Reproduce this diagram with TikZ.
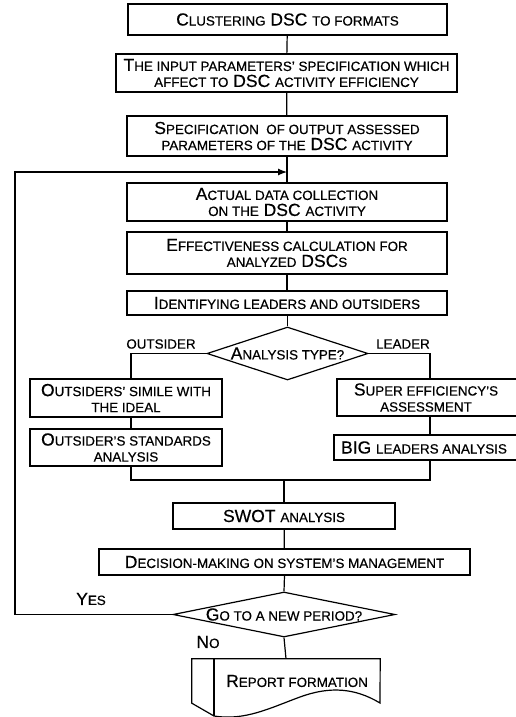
\documentclass[tikz,border=0pt]{standalone}
\usepackage{fontspec}
\setmainfont[FakeBold=0.5,AutoFakeBold=0.5]{Liberation Sans}
\usetikzlibrary{shapes.geometric,arrows.meta}
\newcommand\sm[1]{{\fontsize{13.4}{16}\selectfont #1}}
\tikzset{
  box/.style={draw, rectangle, inner sep=0pt, align=center, line width=1.2pt,
    font=\fontsize{17.5}{16}\selectfont},
  dia/.style={draw, diamond, inner sep=0pt, line width=1.2pt,
    font=\fontsize{17.5}{16}\selectfont},
  lbl/.style={inner sep=0pt, font=\fontsize{17.5}{16}\selectfont},
  conn/.style={line width=1.2pt},
}
\begin{document}
\begin{tikzpicture}[x=1pt,y=-1pt]
\path[use as bounding box] (0,0) rectangle (516,717);
\clip (0,0) rectangle (516,717);
% main column
\node[box, minimum width=319pt, minimum height=31pt] (b1) at (287.5,19.5) {C\sm{LUSTERING} DSC \sm{TO FORMATS}};
\node[box, minimum width=341pt, minimum height=38pt] (b2) at (286.5,73) {T\sm{HE INPUT PARAMETERS' SPECIFICATION WHICH}\\ \sm{AFFECT TO} DSC \sm{ACTIVITY EFFICIENCY}};
\node[box, minimum width=320pt, minimum height=40pt] (b3) at (287,136) {S\sm{PECIFICATION\ \ OF OUTPUT ASSESSED}\\ \sm{PARAMETERS OF THE} DSC \sm{ACTIVITY}};
\node[box, minimum width=320pt, minimum height=38pt] (b4) at (287,202) {A\sm{CTUAL DATA COLLECTION}\\ \sm{ON THE} DSC \sm{ACTIVITY}};
\node[box, minimum width=320pt, minimum height=42pt] (b5) at (287,253) {E\sm{FFECTIVENESS CALCULATION FOR}\\ \sm{ANALYZED} DSC\sm{S}};
\node[box, minimum width=320pt, minimum height=24pt] (b6) at (287,303) {I\sm{DENTIFYING LEADERS AND OUTSIDERS}};
\node[dia, minimum width=161pt, minimum height=53pt] (d1) at (287.5,353.5) {\makebox[0pt]{A\sm{NALYSIS TYPE?}}};
\node[lbl] (lo) at (161,344) {\sm{OUTSIDER}};
\node[lbl] (ll) at (403,344) {\sm{LEADER}};
% branches
\node[box, minimum width=192pt, minimum height=38pt] (l1) at (126,398) {O\sm{UTSIDERS' SIMILE WITH}\\ \sm{THE IDEAL}};
\node[box, minimum width=192pt, minimum height=37pt] (l2) at (126,447.5) {O\sm{UTSIDER'S STANDARDS}\\ \sm{ANALYSIS}};
\node[box, minimum width=186pt, minimum height=37pt] (r1) at (430,397.5) {\hspace*{-8pt}S\sm{UPER EFFICIENCY'S}\\ \hspace*{-8pt}\sm{ASSESSMENT}};
\node[box, minimum width=192pt, minimum height=25pt] (r2) at (430,447.5) {\hspace*{-12pt}BIG \sm{LEADERS ANALYSIS}};
\coordinate (mg) at (284,480);
\node[box, minimum width=222pt, minimum height=26pt] (sw) at (284,516) {SWOT \sm{ANALYSIS}};
\node[box, minimum width=371pt, minimum height=26pt] (dm) at (284.5,562) {D\sm{ECISION-MAKING ON SYSTEM'S MANAGEMENT}};
\node[dia, minimum width=222pt, minimum height=45pt] (d2) at (284,614.5) {\makebox[0pt]{G\sm{O TO A NEW PERIOD?}}};
\node[lbl] (yes) at (91,599) {Y\sm{ES}};
\node[lbl] (no) at (208,642) {N\sm{O}};
\node[minimum width=188pt, minimum height=44pt, inner sep=0pt, font=\fontsize{17.5}{16}\selectfont] (rep) at (286,681) {\hspace*{22pt}R\sm{EPORT FORMATION}};
% document outline
\draw[conn] (rep.north west) -- (rep.north east) -- (380,703)
  .. controls (355,688) and (330,686) .. (300,697)
  .. controls (270,708) and (245,721) .. (214,716)
  -- (rep.south west) -- cycle;
\draw[conn] (214,659) -- (214,716);
% connectors
\draw[conn] (b1) -- (b2);
\draw[conn] (b2) -- (b3);
\draw[conn] (b3) -- (b4);
\draw[conn] (b4) -- (b5);
\draw[conn] (b5) -- (b6);
\draw[conn] (b6.south -| d1.north) -- (d1.north);
\draw[conn] (d1.west) -| ([xshift=5pt]l1.north);
\draw[conn] (d1.east) -| (r1.north);
\draw[conn] ([xshift=5pt]l1.south) -- ([xshift=5pt]l2.north);
\draw[conn] (r1.south) -- (r2.north);
\draw[conn] ([xshift=5pt]l2.south) |- (mg);
\draw[conn] (r2.south) |- (mg);
\draw[conn] (mg) -- (sw.north);
\draw[conn] (sw) -- (dm);
\draw[conn] (dm.south) -- (d2.north);
\draw[conn] (d2.south) -- (rep.north);
\coordinate (lp) at (15,172);
\coordinate (ent) at (287,172);
\draw[conn, -{Latex[length=9pt,width=7pt]}] (d2.west) -| (lp) -- (ent);
\end{tikzpicture}
\end{document}
